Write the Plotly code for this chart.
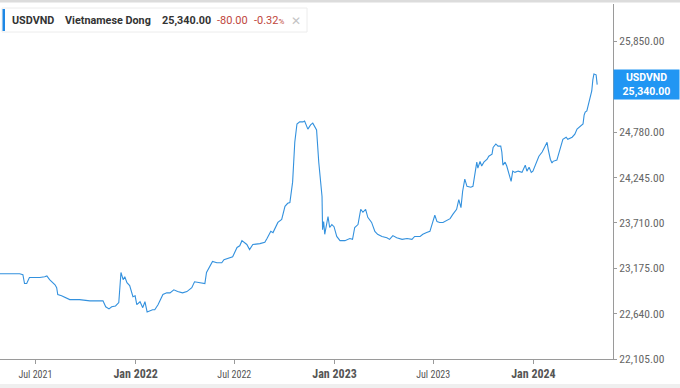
import plotly.graph_objects as go

# ---- data ----
dates = [
    "2021-04-27", "2021-05-15", "2021-06-02", "2021-06-08", "2021-06-11", "2021-06-15",
    "2021-06-20", "2021-06-30", "2021-07-09", "2021-07-18", "2021-07-22", "2021-07-27",
    "2021-08-06", "2021-08-09", "2021-08-11", "2021-08-18", "2021-08-25", "2021-09-02",
    "2021-09-20", "2021-10-09", "2021-10-27", "2021-11-02", "2021-11-07", "2021-11-13",
    "2021-11-18", "2021-11-25", "2021-12-01", "2021-12-05", "2021-12-09", "2021-12-12",
    "2021-12-16", "2021-12-21", "2021-12-27", "2021-12-31", "2022-01-03", "2022-01-09",
    "2022-01-14", "2022-01-18", "2022-01-22", "2022-01-27", "2022-02-01", "2022-02-05",
    "2022-02-11", "2022-02-20", "2022-02-27", "2022-03-05", "2022-03-12", "2022-03-19",
    "2022-03-28", "2022-04-05", "2022-04-14", "2022-04-19", "2022-04-29", "2022-05-08",
    "2022-05-11", "2022-05-22", "2022-05-30", "2022-06-08", "2022-06-12", "2022-06-23",
    "2022-06-28", "2022-07-06", "2022-07-11", "2022-07-15", "2022-07-24", "2022-07-29",
    "2022-08-04", "2022-08-17", "2022-08-26", "2022-08-30", "2022-09-06", "2022-09-10",
    "2022-09-15", "2022-09-19", "2022-09-26", "2022-10-02", "2022-10-07", "2022-10-11",
    "2022-10-16", "2022-10-20", "2022-10-24", "2022-10-29", "2022-11-04", "2022-11-07",
    "2022-11-13", "2022-11-18", "2022-11-22", "2022-11-29", "2022-12-03", "2022-12-09",
    "2022-12-10", "2022-12-12", "2022-12-14", "2022-12-20", "2022-12-23", "2022-12-27",
    "2022-12-31", "2023-01-05", "2023-01-11", "2023-01-20", "2023-01-29", "2023-02-03",
    "2023-02-07", "2023-02-13", "2023-02-18", "2023-02-22", "2023-02-27", "2023-03-03",
    "2023-03-10", "2023-03-16", "2023-03-21", "2023-03-29", "2023-04-07", "2023-04-12",
    "2023-04-18", "2023-04-25", "2023-05-05", "2023-05-14", "2023-05-23", "2023-05-28",
    "2023-06-07", "2023-06-12", "2023-06-19", "2023-06-25", "2023-06-30", "2023-07-04",
    "2023-07-08", "2023-07-13", "2023-07-19", "2023-07-26", "2023-08-01", "2023-08-06",
    "2023-08-13", "2023-08-17", "2023-08-21", "2023-08-24", "2023-08-28", "2023-09-01",
    "2023-09-08", "2023-09-12", "2023-09-16", "2023-09-19", "2023-09-21", "2023-09-25",
    "2023-09-28", "2023-10-02", "2023-10-08", "2023-10-11", "2023-10-17", "2023-10-19",
    "2023-10-24", "2023-10-28", "2023-11-02", "2023-11-04", "2023-11-06", "2023-11-10",
    "2023-11-13", "2023-11-15", "2023-11-19", "2023-11-21", "2023-11-24", "2023-11-28",
    "2023-12-04", "2023-12-11", "2023-12-17", "2023-12-20", "2023-12-24", "2023-12-28",
    "2023-12-31", "2024-01-07", "2024-01-11", "2024-01-17", "2024-01-22", "2024-01-26",
    "2024-01-28", "2024-02-01", "2024-02-04", "2024-02-06", "2024-02-13", "2024-02-19",
    "2024-02-24", "2024-03-01", "2024-03-04", "2024-03-12", "2024-03-17", "2024-03-21",
    "2024-03-26", "2024-04-01", "2024-04-03", "2024-04-05", "2024-04-08", "2024-04-12",
    "2024-04-17", "2024-04-19", "2024-04-21", "2024-04-25", "2024-04-27",
]
rates = [
    23110, 23110, 23110, 23100, 22995, 22995,
    23065, 23065, 23065, 23075, 23085, 23040,
    22980, 22945, 22865, 22850, 22825, 22805,
    22805, 22790, 22790, 22790, 22720, 22695,
    22720, 22730, 22770, 23125, 23040, 23075,
    23005, 22970, 22840, 22850, 22745, 22780,
    22710, 22780, 22660, 22675, 22685, 22685,
    22745, 22865, 22885, 22885, 22920, 22900,
    22885, 22900, 22945, 23015, 23005, 22995,
    23125, 23255, 23240, 23240, 23275, 23300,
    23310, 23420, 23440, 23500, 23455, 23395,
    23455, 23465, 23480, 23525, 23610, 23595,
    23655, 23715, 23750, 23905, 23940, 23950,
    24190, 24660, 24875, 24900, 24900, 24910,
    24815, 24865, 24885, 24805, 24425, 24020,
    23630, 23725, 23575, 23785, 23655, 23690,
    23665, 23550, 23500, 23500, 23525, 23515,
    23655, 23690, 23870, 23835, 23870, 23775,
    23715, 23610, 23575, 23550, 23535, 23515,
    23560, 23535, 23515, 23525, 23515, 23550,
    23550, 23575, 23595, 23610, 23715, 23800,
    23725, 23715, 23715, 23740, 23760, 23810,
    23870, 23985, 23890, 24080, 24225, 24140,
    24130, 24140, 24340, 24425, 24355, 24435,
    24380, 24425, 24460, 24495, 24520, 24600,
    24640, 24615, 24615, 24545, 24390, 24425,
    24380, 24340, 24260, 24200, 24320, 24305,
    24320, 24305, 24390, 24320, 24365, 24305,
    24320, 24425, 24495, 24545, 24615, 24660,
    24580, 24460, 24415, 24435, 24450, 24580,
    24695, 24720, 24695, 24720, 24755, 24815,
    24840, 24875, 24980, 25015, 25030, 25145,
    25265, 25395, 25465, 25455, 25340,
]

y_tick_values = [22105, 22640, 23175, 23710, 24245, 24780, 25850]
x_tick_dates = ["2021-07-01", "2022-01-01", "2022-07-01", "2023-01-01", "2023-07-01", "2024-01-01"]
x_tick_labels = ["Jul 2021", "Jan 2022", "Jul 2022", "Jan 2023", "Jul 2023", "Jan 2024"]

symbol = "USDVND"
name = "Vietnamese Dong"
last_price = 25340.00
change = -80.00
change_pct = -0.32

# ---- figure geometry ----
W, H = 680, 388
ML, MR, MT, MB = 0, 67, 4, 29
PW = W - ML - MR
PH = H - MT - MB

def px(x):
    return (x - ML) / PW

def py(y):
    return (H - MB - y) / PH

LINE_BLUE = "#3391de"
NARROW = "Liberation Sans Narrow, Roboto Condensed, Arial Narrow, Roboto, sans-serif"
SANS = "Roboto, Liberation Sans, Arial, sans-serif"

fig = go.Figure()
fig.add_trace(go.Scatter(
    x=dates, y=rates, mode="lines",
    line=dict(color=LINE_BLUE, width=1.1),
    hoverinfo="skip", showlegend=False,
))

ticktext = []
for lab in x_tick_labels:
    if lab.startswith("Jan"):
        ticktext.append("<b>" + lab + "</b>")
    else:
        ticktext.append("<span style='font-size:10px'>" + lab + "</span>")

fig.update_layout(
    width=W, height=H,
    margin=dict(l=ML, r=MR, t=MT, b=MB),
    paper_bgcolor="white", plot_bgcolor="white",
    showlegend=False,
    xaxis=dict(
        type="date",
        range=["2021-04-27", "2024-05-26"],
        tickvals=x_tick_dates, ticktext=ticktext,
        tickfont=dict(family=NARROW, size=12, color="#555"),
        showgrid=False, zeroline=False,
        showline=True, linecolor="#9a9a9a", linewidth=1,
        ticks="outside", ticklen=4, tickcolor="#9a9a9a",
    ),
    yaxis=dict(
        side="right",
        range=[22105, 26290],
        tickvals=y_tick_values,
        tickformat=",.2f",
        tickfont=dict(family=NARROW, size=11.5, color="#666"),
        showgrid=False, zeroline=False,
        showline=True, linecolor="#9a9a9a", linewidth=1,
        ticks="outside", ticklen=3, tickcolor="#9a9a9a",
    ),
)

shapes = [
    # top border strip
    dict(type="rect", xref="paper", yref="paper", x0=px(0), x1=px(W), y0=py(2.5), y1=py(0),
         fillcolor="#dcdcdc", line=dict(width=0), layer="above"),
    # bottom band
    dict(type="rect", xref="paper", yref="paper", x0=px(0), x1=px(W), y0=py(H), y1=py(384),
         fillcolor="#efefef", line=dict(width=0), layer="above"),
    # header box
    dict(type="rect", xref="paper", yref="paper", x0=px(2), x1=px(307), y0=py(32), y1=py(8),
         fillcolor="white", line=dict(color="#ececec", width=1), layer="above"),
    dict(type="rect", xref="paper", yref="paper", x0=px(2.5), x1=px(5), y0=py(31), y1=py(9),
         fillcolor="#1e88e5", line=dict(width=0), layer="above"),
]
fig.update_layout(shapes=shapes)

def head(x, text, color="#333", size=10.8, bold=True):
    fig.add_annotation(
        xref="paper", yref="paper", x=px(x), y=py(20.5),
        xanchor="left", yanchor="middle", showarrow=False,
        text=("<b>" + text + "</b>") if bold else text,
        font=dict(family=SANS, size=size, color=color),
    )

head(10, symbol)
head(63, name)
head(160, f"{last_price:,.2f}")
head(215, f"{change:,.2f}", color="#c0463c", bold=False, size=11)
head(252, f"{change_pct:.2f}<span style='font-size:8px'>%</span>", color="#c0463c", bold=False, size=11)
head(289, "✕", color="#c4c4c4", size=12, bold=False)

# last-price tag on the right axis
fig.add_annotation(
    xref="paper", yref="y", x=1, y=last_price,
    xanchor="left", yanchor="middle", showarrow=False,
    text=f"<b>{symbol}<br>{last_price:,.2f}</b>",
    font=dict(family=SANS, size=10.5, color="white"),
    bgcolor="#2196f3", width=63, height=27, borderpad=1, align="center",
)

fig.write_html("out.html")
